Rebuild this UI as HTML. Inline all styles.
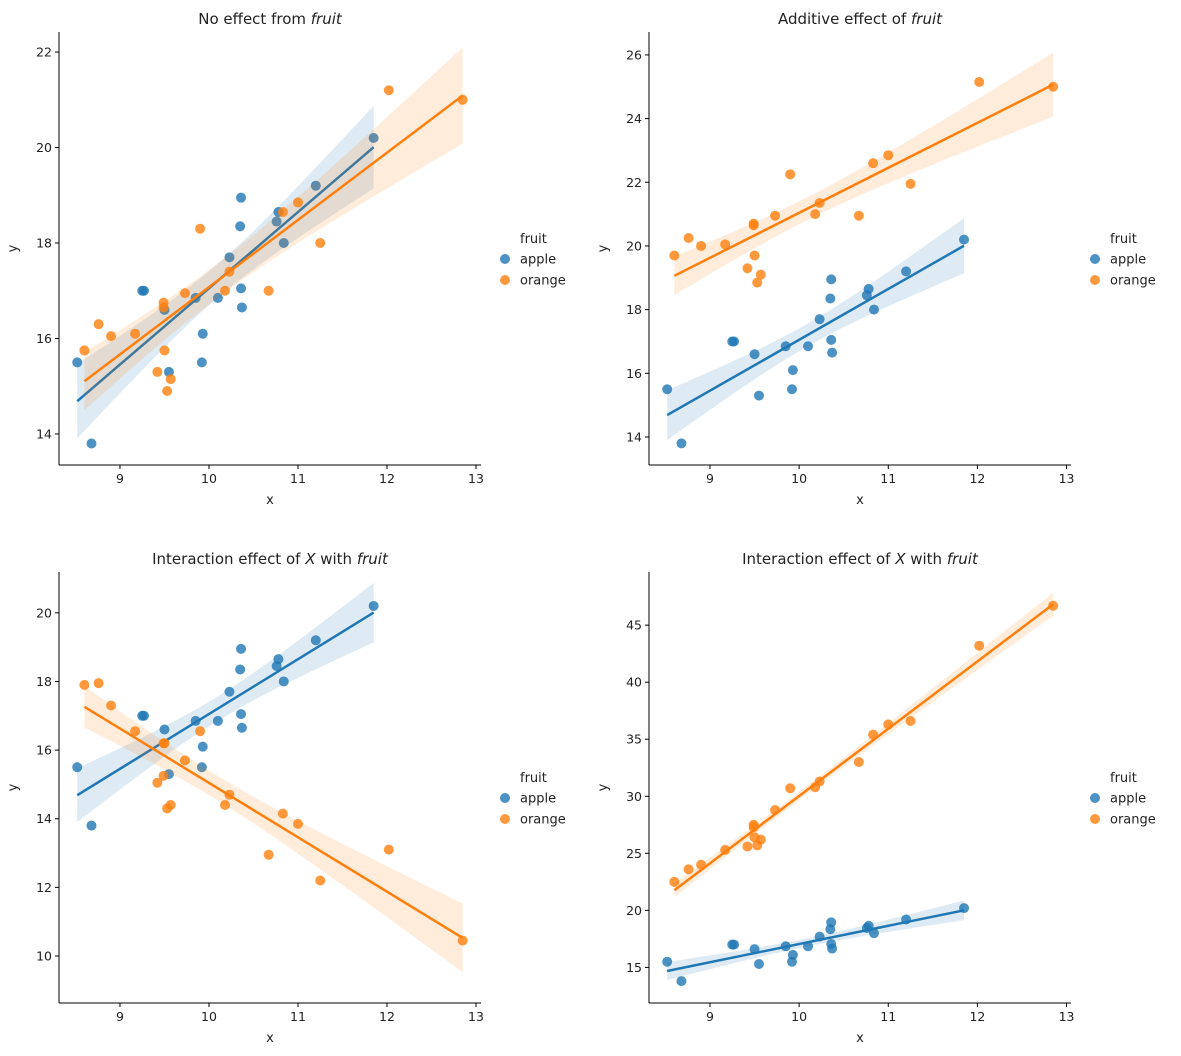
<!DOCTYPE html>
<html><head><meta charset="utf-8">
<style>
body{margin:0;background:#fff;}
svg{display:block;font-family:"DejaVu Sans","Liberation Sans",sans-serif;}
</style></head>
<body>
<svg id="c" width="1181" height="1056" xmlns="http://www.w3.org/2000/svg"></svg>
<script>
const appleX=[8.52,8.68,9.25,9.27,9.5,9.55,9.85,9.92,9.93,10.1,10.23,10.35,10.36,10.36,10.37,10.76,10.78,10.84,11.2,11.85];
const appleY=[15.5,13.8,17.0,17.0,16.6,15.3,16.85,15.5,16.1,16.85,17.7,18.35,18.95,17.05,16.65,18.45,18.65,18.0,19.2,20.2];
const orangeX=[8.6,8.76,8.9,9.17,9.42,9.49,9.49,9.5,9.53,9.57,9.73,9.9,10.18,10.23,10.67,10.83,11.0,11.25,12.02,12.85];
const orangeY1=[15.75,16.3,16.05,16.1,15.3,16.75,16.65,15.75,14.9,15.15,16.95,18.3,17.0,17.4,17.0,18.65,18.85,18.0,21.2,21.0];
const orangeY2=[19.7,20.25,20.0,20.05,19.3,20.7,20.65,19.7,18.85,19.1,20.95,22.25,21.0,21.35,20.95,22.6,22.85,21.95,25.15,25.0];
const orangeY3=[17.9,17.95,17.3,16.55,15.05,15.25,16.2,16.2,14.3,14.4,15.7,16.55,14.4,14.7,12.95,14.15,13.85,12.2,13.1,10.45];
const orangeY4=[22.5,23.6,24.0,25.3,25.6,27.3,27.5,26.4,25.7,26.2,28.8,30.7,30.8,31.3,33.0,35.4,36.3,36.6,43.2,46.7];
const xTicks=[9,10,11,12,13];
const yTicks1=[14,16,18,20,22];
const yTicks2=[14,16,18,20,22,24,26];
const yTicks3=[10,12,14,16,18,20];
const yTicks4=[15,20,25,30,35,40,45];
const legendLabels=["apple","orange"];

const NS="http://www.w3.org/2000/svg";
const svg=document.getElementById('c');
const BLUE="#1f77b4",ORANGE="#ff7f0e";
function el(tag,attrs,parent){const e=document.createElementNS(NS,tag);for(const k in attrs)e.setAttribute(k,attrs[k]);(parent||svg).appendChild(e);return e;}

const panels=[
 {left:59,right:481,top:32,bottom:465,xd:[8.315,13.056],yd:[13.35,22.42],yt:yTicks1,oy:orangeY1,title:["No effect from ","fruit",""],lx:505,ly:238,name:"panel-no-effect"},
 {left:649,right:1071,top:32,bottom:465,xd:[8.316,13.05],yd:[13.12,26.72],yt:yTicks2,oy:orangeY2,title:["Additive effect of ","fruit",""],lx:1095,ly:238,name:"panel-additive"},
 {left:59,right:481,top:572,bottom:1003,xd:[8.315,13.056],yd:[8.63,21.19],yt:yTicks3,oy:orangeY3,title:["Interaction effect of ","X"," with ","fruit"],lx:505,ly:777,name:"panel-interaction-1"},
 {left:649,right:1071,top:572,bottom:1003,xd:[8.316,13.05],yd:[11.88,49.66],yt:yTicks4,oy:orangeY4,title:["Interaction effect of ","X"," with ","fruit"],lx:1095,ly:777,name:"panel-interaction-2"}
];

function fit(xs,ys){const n=xs.length;const xm=xs.reduce((a,b)=>a+b)/n,ym=ys.reduce((a,b)=>a+b)/n;let sxx=0,sxy=0;for(let i=0;i<n;i++){sxx+=(xs[i]-xm)**2;sxy+=(xs[i]-xm)*(ys[i]-ym);}const b=sxy/sxx,a=ym-b*xm;let sse=0;for(let i=0;i<n;i++)sse+=(ys[i]-a-b*xs[i])**2;const s=Math.sqrt(sse/(n-2));return {a,b,xm,sxx,s,n};}

panels.forEach((p,pi)=>{
 const g=el('g',{});
 
 
 const X=v=>p.left+(v-p.xd[0])/(p.xd[1]-p.xd[0])*(p.right-p.left);
 const Y=v=>p.bottom-(v-p.yd[0])/(p.yd[1]-p.yd[0])*(p.bottom-p.top);
 const series=[[appleX,appleY,BLUE,'apple'],[orangeX,p.oy,ORANGE,'orange']];
 series.forEach(([xs,ys,col,nm])=>{
  const f=fit(xs,ys);const x0=Math.min(...xs),x1=Math.max(...xs);
  let up=[],lo=[];
  for(let i=0;i<=60;i++){const x=x0+(x1-x0)*i/60;const yh=f.a+f.b*x;const se=f.s*Math.sqrt(1/f.n+(x-f.xm)**2/f.sxx);up.push(X(x).toFixed(1)+','+Y(yh+1.9*se).toFixed(1));lo.unshift(X(x).toFixed(1)+','+Y(yh-1.9*se).toFixed(1));}
  const band=el('polygon',{points:up.concat(lo).join(' '),fill:col,'fill-opacity':0.15},g);
  
  
  xs.forEach((x,i)=>{const c=el('circle',{cx:X(x),cy:Y(ys[i]),r:5,fill:col,'fill-opacity':0.8},g);
   
   });
  const ln=el('line',{x1:X(x0),y1:Y(f.a+f.b*x0),x2:X(x1),y2:Y(f.a+f.b*x1),stroke:col,'stroke-width':2.5},g);
  
  
 });
 el('line',{x1:p.left,y1:p.top,x2:p.left,y2:p.bottom,stroke:'#000','stroke-width':1},g);
 el('line',{x1:p.left,y1:p.bottom,x2:p.right,y2:p.bottom,stroke:'#000','stroke-width':1},g);
 xTicks.forEach(t=>{el('line',{x1:X(t),y1:p.bottom,x2:X(t),y2:p.bottom+4,stroke:'#000'},g);
  const tx=el('text',{x:X(t),y:p.bottom+18,'font-size':12.5,'text-anchor':'middle',fill:'#222'},g);tx.textContent=t;
  
  });
 p.yt.forEach(t=>{el('line',{x1:p.left-4,y1:Y(t),x2:p.left,y2:Y(t),stroke:'#000'},g);
  const tx=el('text',{x:p.left-7,y:Y(t)+4.5,'font-size':12.5,'text-anchor':'end',fill:'#222'},g);tx.textContent=t;
  
  });
 const xl=el('text',{x:(p.left+p.right)/2,y:p.bottom+39,'font-size':13,'text-anchor':'middle',fill:'#222'},g);xl.textContent='x';
 
 
 const yx=p.left-42,yy=(p.top+p.bottom)/2;
 const yl=el('text',{x:yx,y:yy,'font-size':13,'text-anchor':'middle',fill:'#222',transform:`rotate(-90 ${yx} ${yy})`},g);yl.textContent='y';
 
 
 const tt=el('text',{x:(p.left+p.right)/2,y:p.top-8,'font-size':15,'text-anchor':'middle',fill:'#222'},g);
 
 
 p.title.forEach((s,i)=>{const ts=el('tspan',{},tt);ts.textContent=s;if(i%2==1)ts.setAttribute('font-style','italic');});
 const lt=el('text',{x:p.lx+15,y:p.ly+5,'font-size':13,fill:'#222'},g);lt.textContent='fruit';
 
 
 legendLabels.forEach((lab,i)=>{const yy2=p.ly+21*(i+1);
  const c=el('circle',{cx:p.lx,cy:yy2,r:5,fill:i?ORANGE:BLUE,'fill-opacity':0.8},g);
  
  
  const t=el('text',{x:p.lx+15,y:yy2+4.5,'font-size':13,fill:'#222'},g);t.textContent=lab;
  
  });
});
</script>
</body></html>
